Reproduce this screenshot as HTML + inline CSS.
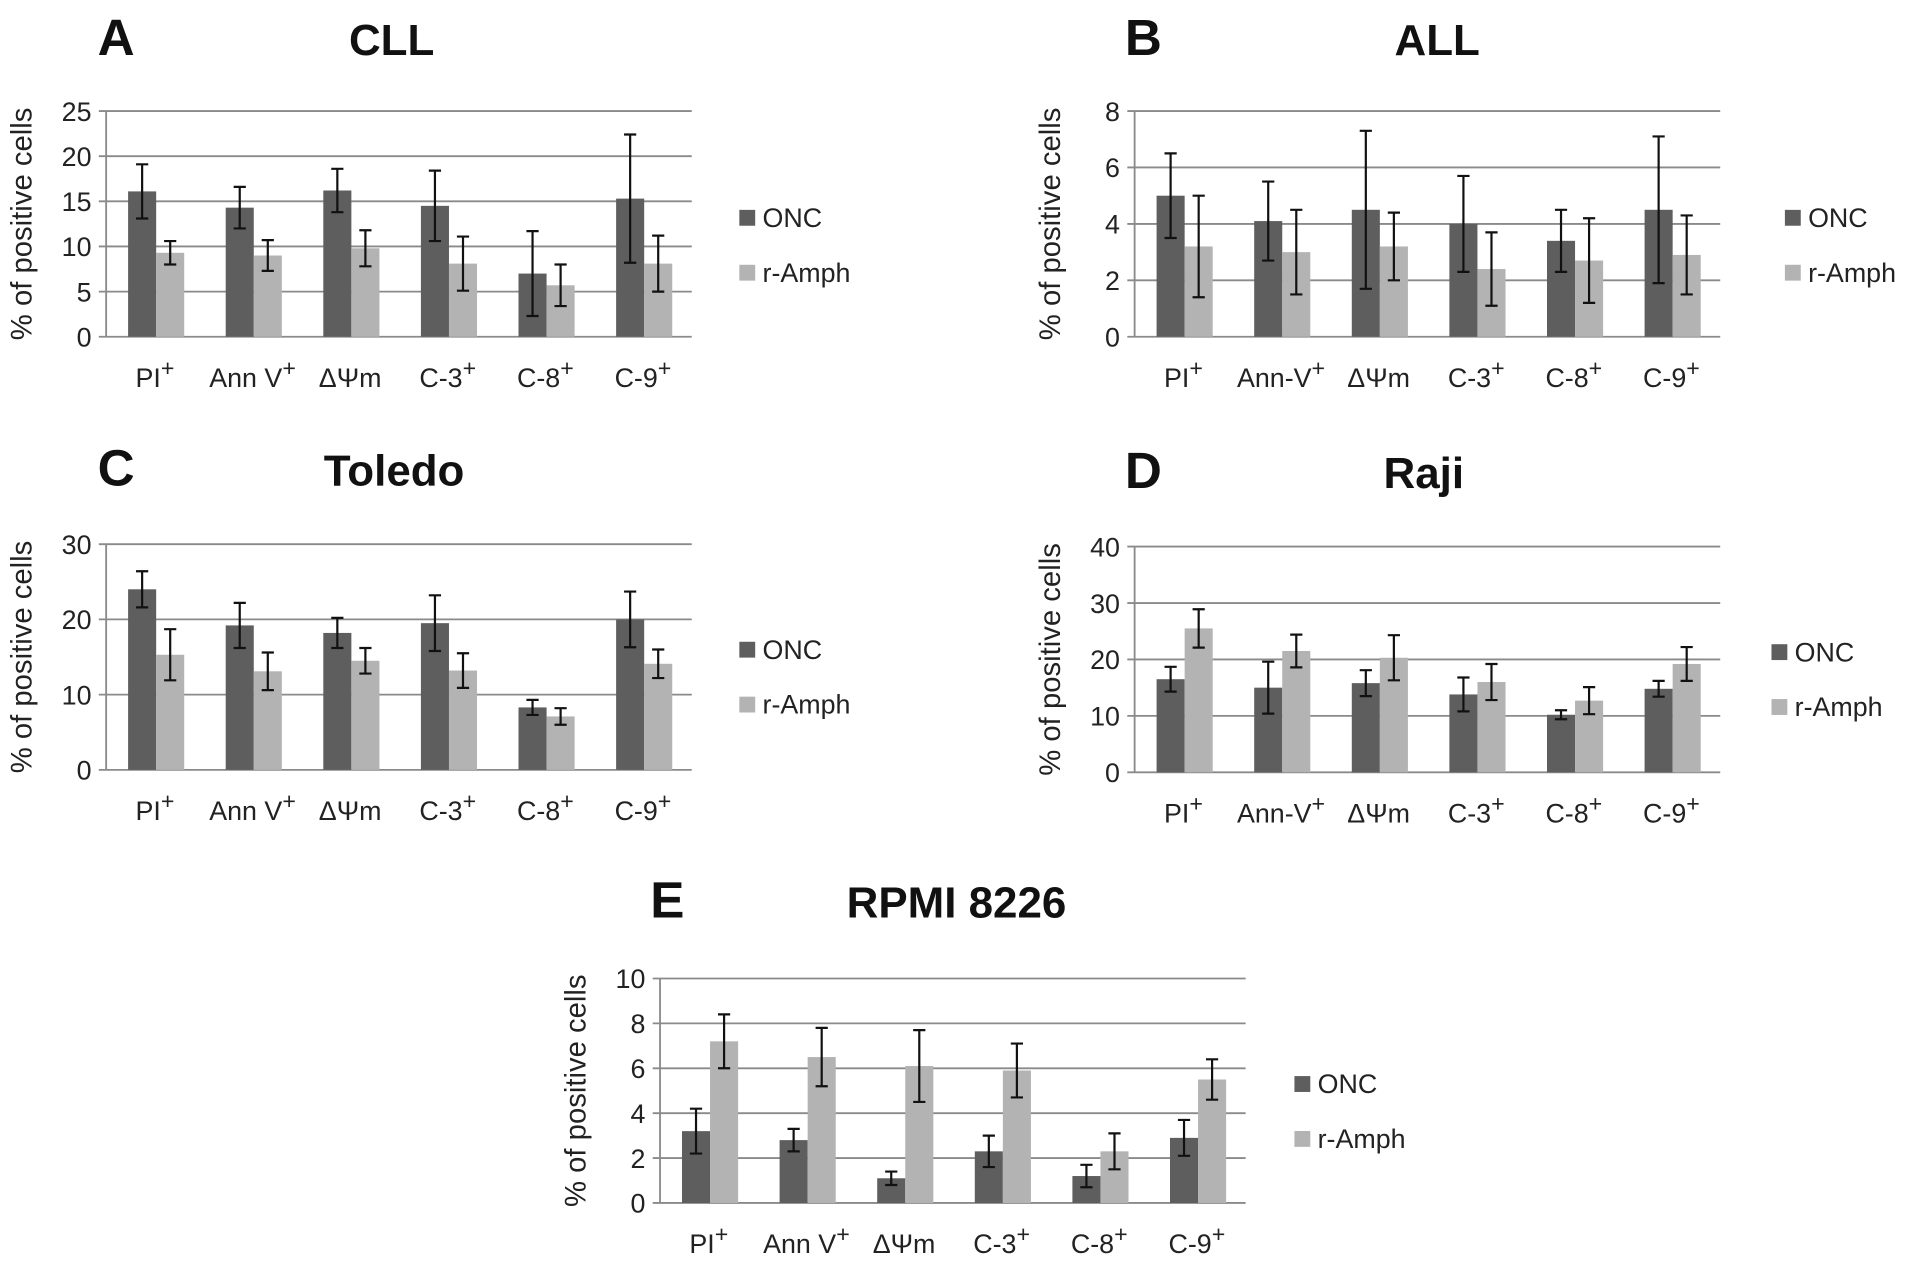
<!DOCTYPE html>
<html><head><meta charset="utf-8"><style>
html,body{margin:0;padding:0;background:#fff;}
svg{display:block;font-family:"Liberation Sans",sans-serif;}
</style></head><body>
<svg id="fig" width="1913" height="1264" viewBox="0 0 1568 1036" xmlns="http://www.w3.org/2000/svg"></svg>
<script>
const categoriesA = ["PI","Ann V","ΔΨm","C-3","C-8","C-9"];
const categoriesB = ["PI","Ann-V","ΔΨm","C-3","C-8","C-9"];
const supers = [true,true,false,true,true,true];
const onc_A = [16.1,14.3,16.2,14.5,7.0,15.3];
const oncErr_A = [3.0,2.3,2.4,3.9,4.7,7.1];
const amph_A = [9.3,9.0,9.8,8.1,5.7,8.1];
const amphErr_A = [1.3,1.7,2.0,3.0,2.3,3.1];
const ticks_A = [0,5,10,15,20,25];
const onc_B = [5.0,4.1,4.5,4.0,3.4,4.5];
const oncErr_B = [1.5,1.4,2.8,1.7,1.1,2.6];
const amph_B = [3.2,3.0,3.2,2.4,2.7,2.9];
const amphErr_B = [1.8,1.5,1.2,1.3,1.5,1.4];
const ticks_B = [0,2,4,6,8];
const onc_C = [24.0,19.2,18.2,19.5,8.3,20.0];
const oncErr_C = [2.4,3.0,2.0,3.7,1.0,3.7];
const amph_C = [15.3,13.1,14.5,13.2,7.1,14.1];
const amphErr_C = [3.4,2.5,1.7,2.3,1.1,1.9];
const ticks_C = [0,10,20,30];
const onc_D = [16.5,15.0,15.8,13.8,10.2,14.8];
const oncErr_D = [2.2,4.6,2.3,3.0,0.8,1.4];
const amph_D = [25.5,21.5,20.3,16.0,12.7,19.2];
const amphErr_D = [3.4,2.9,4.0,3.2,2.4,3.0];
const ticks_D = [0,10,20,30,40];
const onc_E = [3.2,2.8,1.1,2.3,1.2,2.9];
const oncErr_E = [1.0,0.5,0.3,0.7,0.5,0.8];
const amph_E = [7.2,6.5,6.1,5.9,2.3,5.5];
const amphErr_E = [1.2,1.3,1.6,1.2,0.8,0.9];
const ticks_E = [0,2,4,6,8,10];

const NS="http://www.w3.org/2000/svg";
const svg=document.getElementById('fig');
function mk(tag,attrs,parent){const e=document.createElementNS(NS,tag);for(const k in attrs)e.setAttribute(k,attrs[k]);(parent||svg).appendChild(e);return e;}

function panel(id,letter,title,lx,titleX,titleY,x0,yTop,yBot,cats,onc,oncE,amph,amphE,ticks,legX,legY){
  const g=mk('g',{});
  
  
  const W=480, max=ticks[ticks.length-1];
  const y=v=>yBot-(v/max)*(yBot-yTop);
  const gw=W/cats.length;
  const lt=mk('text',{x:lx,y:titleY,'font-size':42,'font-weight':'bold',fill:'#111'},g);lt.textContent=letter;
  
  
  const tt=mk('text',{x:titleX,y:titleY,'font-size':36,'font-weight':'bold','text-anchor':'middle',fill:'#111'},g);tt.textContent=title;
  
  
  ticks.forEach(t=>{
    const l=mk('line',{x1:x0-6,x2:x0+W,y1:y(t),y2:y(t),stroke:'#8a8a8a','stroke-width':1.5},g);
    
    
    const tx=mk('text',{x:x0-12,y:y(t)+8,'font-size':22,'text-anchor':'end',fill:'#222'},g);tx.textContent=t;
    
    
  });
  mk('line',{x1:x0,x2:x0,y1:yTop,y2:yBot,stroke:'#8a8a8a','stroke-width':1.5},g);
  const yl=mk('text',{x:0,y:0,'font-size':24,'text-anchor':'middle',fill:'#222',transform:`translate(${x0-61},${(yTop+yBot)/2}) rotate(-90)`},g);
  yl.textContent='% of positive cells';
  
  
  cats.forEach((c,i)=>{
    const gx=x0+i*gw;
    [[onc,oncE,'#5e5e5e',18,'bar-onc'],[amph,amphE,'#b3b3b3',41,'bar-ramph']].forEach(([vals,errs,col,off,nm])=>{
      const bx=gx+off, bw=23, v=vals[i], e=errs[i];
      const r=mk('rect',{x:bx,y:y(v),width:bw,height:yBot-y(v),fill:col},g);
      
      
      const cx=bx+bw/2, yh=y(v+e), yl2=y(Math.max(0,v-e));
      const eb=mk('path',{d:`M${cx-5},${yh}H${cx+5}M${cx},${yh}V${yl2}M${cx-5},${yl2}H${cx+5}`,stroke:'#111','stroke-width':1.8,fill:'none'},g);
      
      
    });
    const ct=mk('text',{x:gx+gw/2,y:yBot+41,'font-size':22,'text-anchor':'middle',fill:'#222'},g);
    ct.textContent=c;
    if(supers[i]){const s=mk('tspan',{dy:-9,'font-size':19},ct);s.textContent='+';}
    
    
  });
  [['ONC','#5e5e5e',0],['r-Amph','#b3b3b3',45]].forEach(([n,col,dy])=>{
    const r=mk('rect',{x:legX,y:legY+dy-7,width:13,height:13,fill:col},g);
    
    
    const t=mk('text',{x:legX+19,y:legY+dy+7,'font-size':22,fill:'#222'},g);t.textContent=n;
    
    
  });
}
panel('a','A','CLL',80,321,45,87,91,276,categoriesA,onc_A,oncErr_A,amph_A,amphErr_A,ticks_A,606,179);
panel('b','B','ALL',922,1178,45,930,91,276,categoriesB,onc_B,oncErr_B,amph_B,amphErr_B,ticks_B,1463,179);
panel('c','C','Toledo',80,323,398,87,446,631,categoriesA,onc_C,oncErr_C,amph_C,amphErr_C,ticks_C,606,533);
panel('d','D','Raji',922,1167,400,930,448,633,categoriesB,onc_D,oncErr_D,amph_D,amphErr_D,ticks_D,1452,535);
panel('e','E','RPMI 8226',533,784,752,541,802,986,categoriesA,onc_E,oncErr_E,amph_E,amphErr_E,ticks_E,1061,889);
</script>
</body></html>
